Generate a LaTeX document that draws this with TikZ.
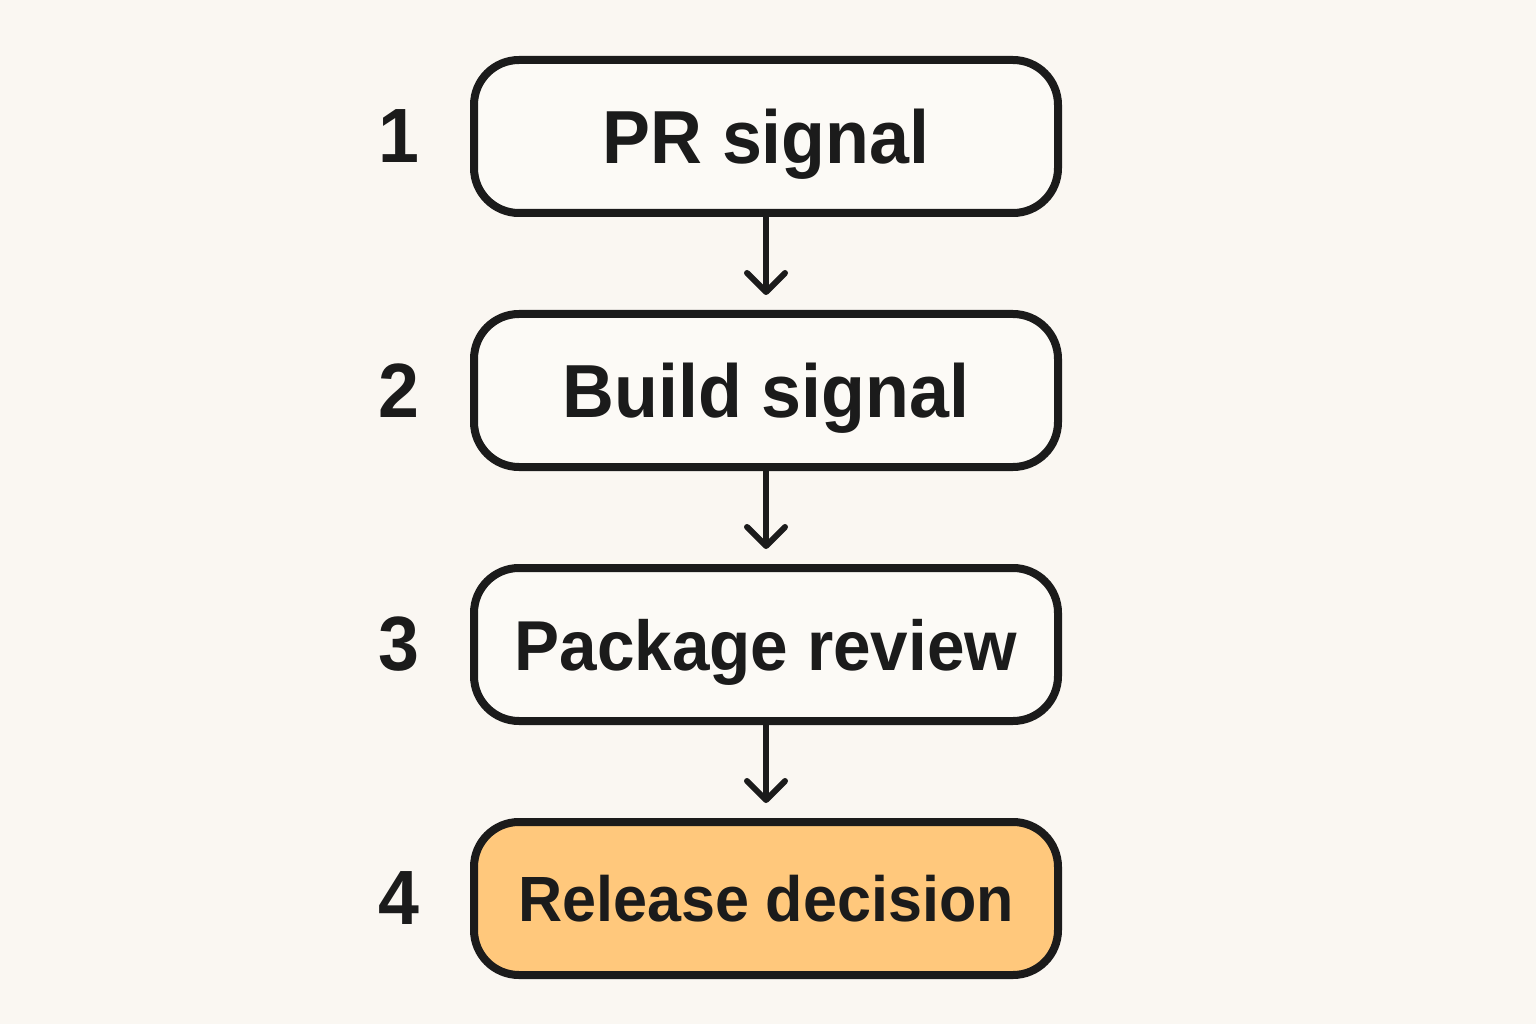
\documentclass[tikz,border=0pt]{standalone}
\usepackage{fontspec}
\usepackage{xcolor}
\usetikzlibrary{arrows.meta,positioning}
\newfontfamily\stagefont{Liberation Sans}[FakeStretch=0.955]
\definecolor{paper}{HTML}{FAF7F2}
\definecolor{ink}{HTML}{1B1B1B}
\definecolor{boxfill}{HTML}{FCFAF6}
\definecolor{decide}{HTML}{FFC87C}

\begin{document}
\begin{tikzpicture}
		[stage/.style={draw=ink,fill=boxfill,line width=0.08cm,rounded corners=0.45cm,
			minimum width=5.84cm,minimum height=1.53cm,text depth=0pt,text=ink},
		num/.style={inner sep=0pt,text=ink,font=\stagefont\bfseries\fontsize{21.9}{25}\selectfont},
		flow/.style={draw=ink,line width=0.06cm,shorten >=0.15cm,
			-{Straight Barb[length=0.19cm,width=0.38cm,line cap=round,line join=round]}},
		node distance=0.93cm]
		\fill[paper] (0,0) rectangle (15.36,10.24);
		% the four stages
		\node[stage,font=\stagefont\bfseries\fontsize{21.4}{25}\selectfont] (pr) at (7.66,8.875) {PR signal};
		\node[stage,below=of pr,font=\stagefont\bfseries\fontsize{21.4}{25}\selectfont] (build) {Build signal};
		\node[stage,below=of build,font=\stagefont\bfseries\fontsize{20.1}{24}\selectfont] (package) {Package review};
		\node[stage,below=of package,fill=decide,font=\stagefont\bfseries\fontsize{18.2}{22}\selectfont] (release) {Release decision};
		% step numbers
		\node[num,left=0.5cm of pr] (n1) {1};
		\node[num,left=0.5cm of build] (n2) {2};
		\node[num,left=0.5cm of package] (n3) {3};
		\node[num,left=0.5cm of release] (n4) {4};
		% arrows
		\draw[flow] (pr) -- (build);
		\draw[flow] (build) -- (package);
		\draw[flow] (package) -- (release);
\end{tikzpicture}
\end{document}
